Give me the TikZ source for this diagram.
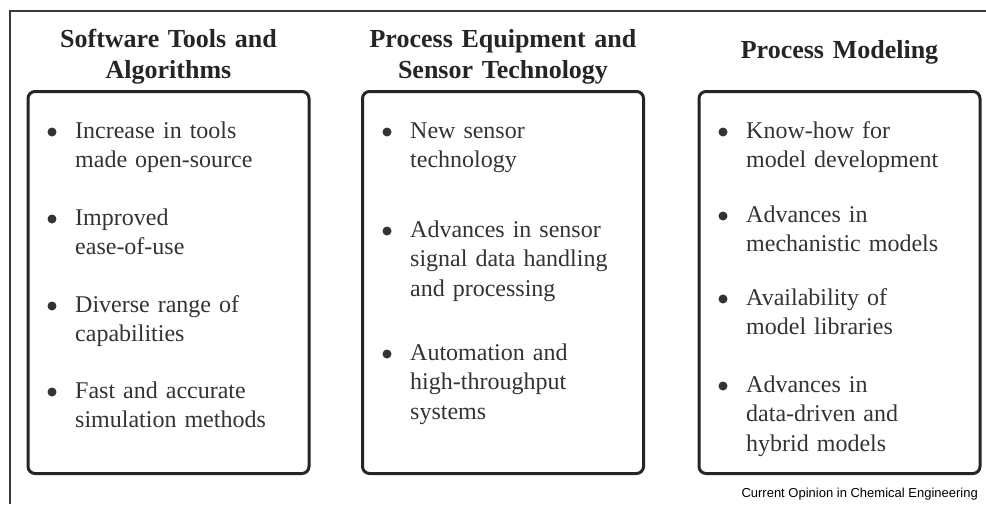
\documentclass[tikz,border=0pt]{standalone}
\usepackage{fontspec}
\setmainfont{Liberation Serif}
\newfontfamily\capfont{Liberation Sans}
\usepackage{tikz}
\usetikzlibrary{positioning}
\definecolor{boxGray}{HTML}{252525}
\definecolor{textGray}{HTML}{333333}
\definecolor{frameGray}{HTML}{3A3A3A}

\begin{document}
\begin{tikzpicture}[x=1pt, y=-1pt,
    panel/.style={draw=boxGray, line width=3pt, rounded corners=7pt, minimum width=281pt, minimum height=382pt},
    ttl/.style={anchor=base, text width=281pt, align=center, inner sep=0pt, text=boxGray, font=\bfseries\fontsize{26}{31}\selectfont},
    itm/.style={anchor=base west, text width=232pt, align=left, inner sep=0pt, text=textGray, font=\fontsize{24}{29.5}\selectfont},
    dot/.style={fill=textGray}]
  \useasboundingbox (0,0) rectangle (986,504);
  \draw[frameGray, line width=1.2pt] (986,11) -- (10,11) -- (10,504);

  % the three panels
  \node[panel] (sw) at (168.5,282.5) {};
  \node[panel] (pe) at (503,282.5) {};
  \node[panel] (pm) at (839.5,282.5) {};

  \node[ttl] (swT) at (168.5,47) {Software Tools and\\Algorithms};
  \node[ttl] (peT) at (503,47) {Process Equipment and\\Sensor Technology};
  \node[ttl] (pmT) at (839.5,58) {Process Modeling};

  \node[itm] (sw1) at (75,138) {Increase in tools\\made open-source};
  \node[itm] (sw2) at (75,225) {Improved\\ease-of-use};
  \node[itm] (sw3) at (75,312) {Diverse range of\\capabilities};
  \node[itm] (sw4) at (75,398) {Fast and accurate\\simulation methods};

  \node[itm] (pe1) at (410,138) {New sensor\\technology};
  \node[itm] (pe2) at (410,237) {Advances in sensor\\signal data handling\\and processing};
  \node[itm] (pe3) at (410,360) {Automation and\\high-throughput\\systems};

  \node[itm] (pm1) at (746,138) {Know-how for\\model development};
  \node[itm] (pm2) at (746,222) {Advances in\\mechanistic models};
  \node[itm] (pm3) at (746,305) {Availability of\\model libraries};
  \node[itm] (pm4) at (746,392) {Advances in\\data-driven and\\hybrid models};

  \foreach \n in {sw1,sw2,sw3,sw4,pe1,pe2,pe3,pm1,pm2,pm3,pm4}
    \fill[dot] ([xshift=-23pt,yshift=6pt]\n.base west) circle (4.5pt);

  \node[anchor=base east, inner sep=0pt, font=\capfont\fontsize{13}{15}\selectfont] (src) at (978,497) {Current Opinion in Chemical Engineering};
\end{tikzpicture}
\end{document}
